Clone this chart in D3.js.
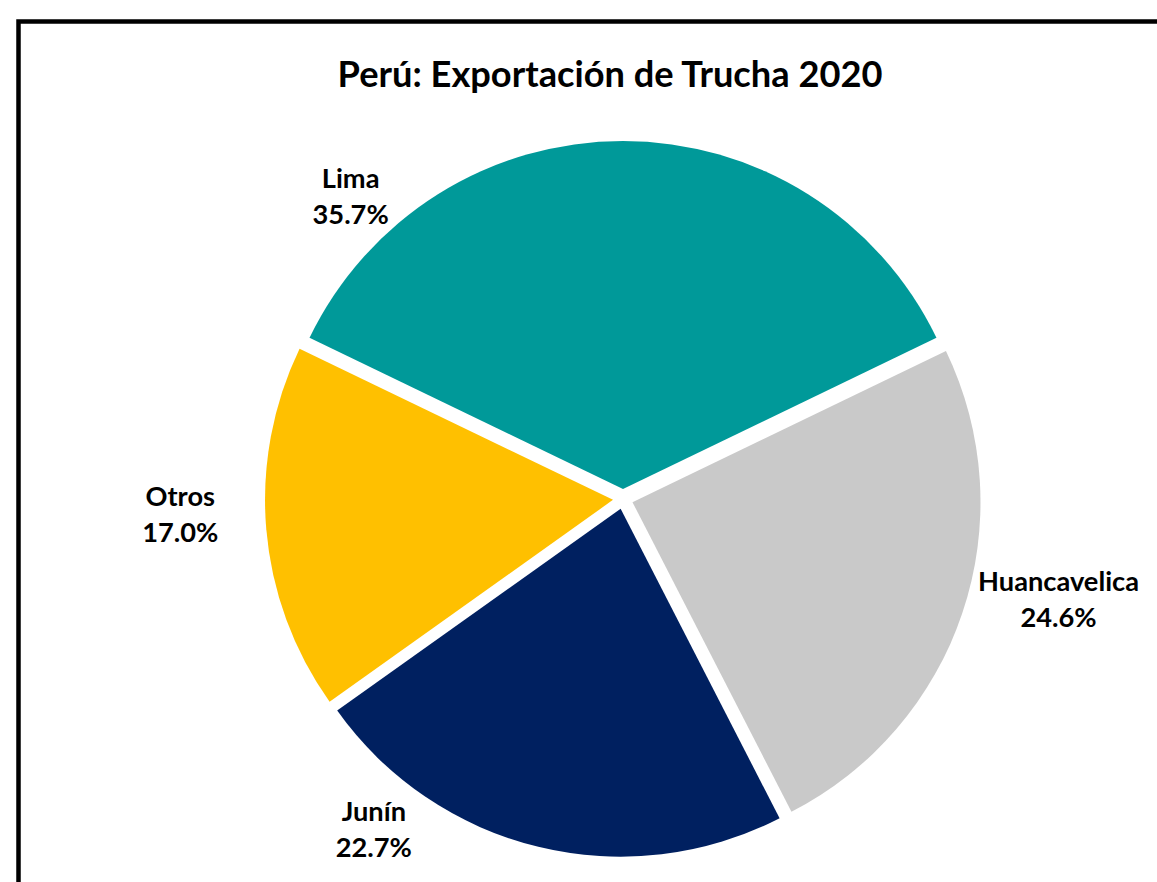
<!DOCTYPE html>
<html>
<head>
<meta charset="utf-8">
<script src="https://cdn.jsdelivr.net/npm/d3@7"></script>
<style>
  html, body { margin: 0; padding: 0; background: #fff; }
  svg { display: block; }
</style>
</head>
<body>
<svg id="chart" width="1157" height="882"></svg>
<script>
// ---- data ----
const title = "Perú: Exportación de Trucha 2020";
const categories = ["Lima", "Huancavelica", "Junín", "Otros"];
const shares = [35.7, 24.6, 22.7, 17.0];
const colors = ["#009999", "#C9C9C9", "#002060", "#FFC000"];

// ---- layout (label placement, degrees clockwise from 12 o'clock) ----
const labelAngles = [-42, 103, 217, 268];
const labelRadii = [407, 447, 414, 443];

const W = 1157, H = 882;
const cx = 623, cy = 499, R = 348, explode = 10;

const svg = d3.select("#chart");
const font = "Lato, 'Open Sans', sans-serif";

// frame
svg.append("rect")
  .attr("x", 18.5).attr("y", 21.5)
  .attr("width", 1200).attr("height", 1000)
  .attr("fill", "none").attr("stroke", "#000").attr("stroke-width", 4.5);

// title
const t = svg.append("text")
  .attr("x", 610).attr("y", 87)
  .attr("text-anchor", "middle")
  .attr("font-family", font).attr("font-weight", 700)
  .attr("font-size", 30).attr("fill", "#000")
  .text(title);
const tw = t.node().getComputedTextLength();
t.attr("font-size", 30 * 545 / tw);

const total = d3.sum(shares);
const startA = -(shares[0] / total) * Math.PI;
const pie = d3.pie().sort(null).value(d => d)
  .startAngle(startA).endAngle(startA + 2 * Math.PI);
const arcs = pie(shares);
const arc = d3.arc().innerRadius(0).outerRadius(R);

const g = svg.append("g").attr("transform", `translate(${cx},${cy})`);
g.selectAll("path").data(arcs).enter().append("path")
  .attr("d", arc)
  .attr("fill", (d, i) => colors[i])
  .attr("transform", d => {
    const m = (d.startAngle + d.endAngle) / 2;
    return `translate(${explode * Math.sin(m)},${-explode * Math.cos(m)})`;
  });

// labels
const lblSize0 = 20;
const probe = svg.append("text").attr("font-family", font).attr("font-weight", 700)
  .attr("font-size", lblSize0).text("Huancavelica");
const lblSize = lblSize0 * 161 / probe.node().getComputedTextLength();
probe.remove();
const lineGap = 36;

arcs.forEach((d, i) => {
  const a = labelAngles[i] * Math.PI / 180;
  const x = cx + labelRadii[i] * Math.sin(a);
  const y = cy - labelRadii[i] * Math.cos(a);
  const txt = svg.append("text")
    .attr("text-anchor", "middle")
    .attr("font-family", font).attr("font-weight", 700)
    .attr("font-size", lblSize).attr("fill", "#000");
  txt.append("tspan").attr("x", x).attr("y", y - lineGap / 2 + lblSize * 0.35)
    .text(categories[i]);
  txt.append("tspan").attr("x", x).attr("y", y + lineGap / 2 + lblSize * 0.35)
    .text(d3.format(".1f")(shares[i]) + "%");
});
</script>
</body>
</html>
